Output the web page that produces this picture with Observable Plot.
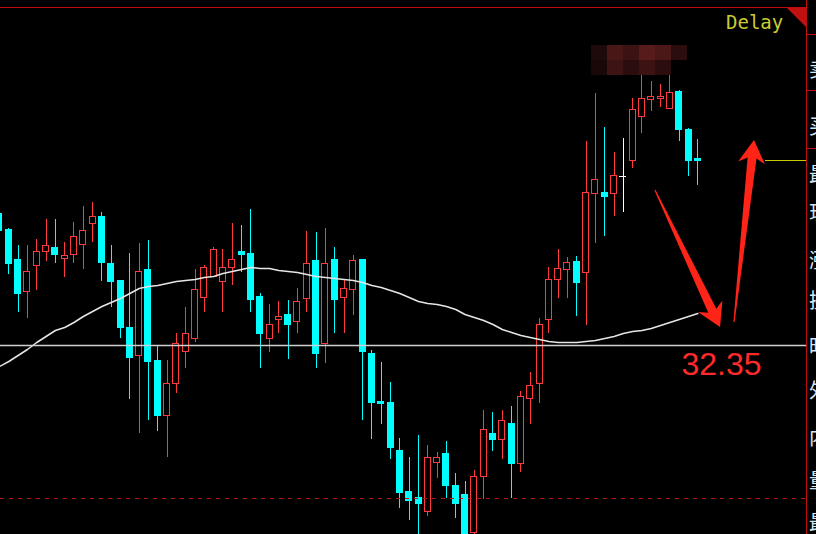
<!DOCTYPE html>
<html>
<head>
<meta charset="utf-8">
<script src="https://cdn.jsdelivr.net/npm/d3@7"></script>
<script src="https://cdn.jsdelivr.net/npm/@observablehq/plot@0.6"></script>
<style>
  html, body { margin: 0; padding: 0; background: #000; }
  #chart { width: 816px; height: 534px; overflow: hidden; }
  #chart svg { display: block; }
</style>
</head>
<body>
<div id="chart"></div>
<script>
// Daily bars, oldest first
const opens = [
  33.67, 33.51, 33.21, 32.89, 33.15, 33.29, 33.33, 33.22, 33.26, 33.36,
  33.57, 33.64, 33.17, 33.00, 32.53, 32.25, 33.11, 32.20, 31.65, 31.97,
  32.29, 32.42, 32.83, 33.04, 32.99, 33.13, 33.29, 33.27, 32.84, 32.42,
  32.61, 32.66, 32.59, 32.82, 33.20, 32.37, 33.21, 32.83, 32.91, 33.21,
  32.27, 31.79, 31.78, 31.30, 30.89, 30.83, 30.69, 31.18, 31.27, 30.95,
  30.86, 30.48, 31.04, 31.47, 31.41, 31.57, 31.17, 31.82, 31.97, 32.61,
  33.01, 33.11, 33.19, 33.08, 33.87, 33.88, 33.87, 34.04, 34.20, 34.64,
  34.81, 34.82, 34.72, 34.89, 34.51, 34.22
];
const highs = [
  33.70, 33.52, 33.35, 33.35, 33.41, 33.61, 33.61, 33.38, 33.58, 33.74,
  33.78, 33.68, 33.35, 33.00, 33.27, 33.37, 33.40, 32.34, 32.20, 32.47,
  32.73, 33.11, 33.15, 33.33, 33.31, 33.57, 33.55, 33.71, 32.87, 32.76,
  32.79, 32.80, 32.92, 33.49, 33.48, 33.52, 33.33, 33.01, 33.25, 33.21,
  32.30, 32.18, 31.98, 31.42, 31.23, 31.45, 31.35, 31.28, 31.39, 31.07,
  30.99, 31.10, 31.70, 31.68, 31.70, 31.74, 31.89, 32.08, 32.62, 33.13,
  33.31, 33.23, 33.24, 34.39, 34.87, 34.53, 34.28, 34.42, 34.82, 35.07,
  34.99, 34.96, 35.05, 34.90, 34.52, 34.41
];
const lows = [
  33.44, 33.06, 32.68, 32.62, 32.90, 33.19, 33.17, 33.03, 33.17, 33.11,
  33.38, 32.99, 32.73, 32.42, 31.81, 31.47, 31.60, 31.49, 31.23, 31.87,
  32.12, 32.38, 32.68, 33.03, 32.68, 32.95, 33.08, 32.68, 32.12, 32.28,
  32.47, 32.21, 32.47, 32.68, 32.12, 32.17, 32.47, 32.47, 32.65, 31.60,
  31.41, 31.56, 31.21, 30.72, 30.60, 30.44, 30.64, 31.02, 30.82, 30.62,
  30.38, 30.40, 30.81, 31.29, 31.21, 30.82, 31.08, 31.56, 31.77, 32.47,
  32.82, 32.82, 32.64, 32.55, 33.37, 33.44, 33.64, 33.68, 34.12, 34.47,
  34.69, 34.73, 34.72, 34.39, 34.04, 33.95
];
const closes = [
  33.50, 33.17, 32.87, 33.09, 33.29, 33.35, 33.26, 33.25, 33.44, 33.50,
  33.64, 33.18, 32.99, 32.53, 32.23, 33.09, 32.19, 31.65, 31.97, 32.37,
  32.47, 32.91, 33.13, 33.31, 33.13, 33.21, 33.26, 32.81, 32.47, 32.56,
  32.64, 32.56, 32.79, 33.17, 32.27, 33.17, 32.81, 32.92, 33.20, 32.29,
  31.78, 31.77, 31.33, 30.88, 30.80, 30.77, 31.23, 31.23, 30.95, 30.77,
  30.44, 31.04, 31.51, 31.41, 31.60, 31.17, 31.84, 31.95, 32.56, 33.01,
  33.12, 33.18, 32.98, 33.88, 34.01, 33.84, 34.05, 34.04, 34.71, 34.82,
  34.84, 34.84, 34.88, 34.51, 34.20, 34.20
];
// Moving average, one value per bar
const movingAvg = [
  32.14, 32.19, 32.25, 32.31, 32.38, 32.44, 32.50, 32.53, 32.58, 32.64,
  32.69, 32.74, 32.78, 32.82, 32.87, 32.92, 32.94, 32.95, 32.97, 32.99,
  33.00, 33.01, 33.03, 33.04, 33.07, 33.09, 33.11, 33.13, 33.12, 33.12,
  33.10, 33.09, 33.08, 33.06, 33.04, 33.03, 33.02, 33.01, 33.00, 32.98,
  32.95, 32.93, 32.90, 32.87, 32.83, 32.79, 32.77, 32.76, 32.74, 32.71,
  32.66, 32.63, 32.60, 32.56, 32.51, 32.48, 32.45, 32.43, 32.41, 32.39,
  32.38, 32.38, 32.38, 32.39, 32.40, 32.42, 32.44, 32.47, 32.49, 32.50,
  32.52, 32.55, 32.58, 32.61, 32.64, 32.67
];
const keyLevel = 32.35;      // marked level, labelled in red
const supportLevel = 30.82;  // dashed red level
const lastPrice = closes[closes.length - 1];
const panelLabels = ["卖", "买", "最", "现", "涨", "换", "昨", "外", "内", "量", "最"];
const statusLabel = "Delay";

// ---- layout ----
const W = 816, H = 534, M_TOP = 8, M_RIGHT = 10;
const xDomain = [0.1074, 86.67];
const yDomain = [30.46, 35.72];
const RED = "#ff3a3a", CYAN = "#00ffff", WHITE = "#ffffff";
const HALF = 0.322; // half body width, in bars

const bars = opens.map((o, i) => ({i, open: o, high: highs[i], low: lows[i], close: closes[i]}));
const up = bars.filter(d => d.close > d.open);
const down = bars.filter(d => d.close < d.open);
const flat = bars.filter(d => d.close === d.open);
const crisp = {shapeRendering: "crispEdges"};

const plot = Plot.plot({
  width: W, height: H,
  marginTop: M_TOP, marginRight: M_RIGHT, marginBottom: 0, marginLeft: 0,
  x: {domain: xDomain, axis: null},
  y: {domain: yDomain, axis: null},
  style: {background: "#000"},
  marks: [
    // wicks
    Plot.ruleX(up, {x: "i", y1: "low", y2: "high", stroke: RED, ...crisp}),
    Plot.ruleX(down, {x: "i", y1: "low", y2: "high", stroke: CYAN, ...crisp}),
    Plot.ruleX(flat, {x: "i", y1: "low", y2: "high", stroke: WHITE, ...crisp}),
    // bodies: hollow red for up days, solid cyan for down days
    Plot.rect(up, {x1: d => d.i - HALF, x2: d => d.i + HALF, y1: "open", y2: "close",
                   fill: "#000", stroke: RED, ...crisp}),
    Plot.rect(down, {x1: d => d.i - HALF, x2: d => d.i + HALF, y1: "open", y2: "close",
                     fill: CYAN, stroke: CYAN, ...crisp}),
    Plot.ruleY(flat, {y: "close", x1: d => d.i - 0.37, x2: d => d.i + 0.37, stroke: WHITE, ...crisp}),
    // moving average
    Plot.line(movingAvg, {x: (d, i) => i, y: d => d, stroke: "#e6e6e6", strokeWidth: 1.5}),
    // levels
    Plot.ruleY([keyLevel], {stroke: "#d0d0d0", strokeWidth: 1.5}),
    Plot.ruleY([supportLevel], {stroke: "#b41414", strokeDasharray: "4,5"}),
    Plot.ruleY([lastPrice], {x1: 82.27, x2: xDomain[1], stroke: "#c8c800"}),
    Plot.text([keyLevel], {
      x: 77.54, y: d => d, text: d => d.toFixed(2),
      fill: "#ff2a2a", fontSize: 32, fontFamily: "Liberation Sans, Arial, sans-serif",
      textAnchor: "middle", lineAnchor: "top", dy: 7
    })
  ]
});
document.getElementById("chart").appendChild(plot);

// ---- annotations drawn over the plot ----
const xs = d3.scaleLinear(xDomain, [0, W - M_RIGHT]);
const ys = d3.scaleLinear(yDomain, [H, M_TOP]);
const svg = d3.select(plot);

function arrowPath(tail, tip, o) {
  const dx = tip[0] - tail[0], dy = tip[1] - tail[1], len = Math.hypot(dx, dy);
  const ux = dx / len, uy = dy / len, nx = -uy, ny = ux;
  const at = (d, w) => [tip[0] - ux * d + nx * w, tip[1] - uy * d + ny * w];
  const pts = [
    [tail[0] + nx * o.tail, tail[1] + ny * o.tail],
    at(o.head - o.notch, o.shaft),
    at(o.head, o.wing),
    tip,
    at(o.head, -o.wing),
    at(o.head - o.notch, -o.shaft),
    [tail[0] - nx * o.tail, tail[1] - ny * o.tail]
  ];
  return "M" + pts.map(p => p[0].toFixed(1) + "," + p[1].toFixed(1)).join("L") + "Z";
}
const arrowStyle = {head: 23, notch: 5, shaft: 4.5, wing: 13.5, tail: 0.6};
const arrows = [
  {from: [70.45, 33.90], to: [77.44, 32.53]},
  {from: [78.94, 32.58], to: [81.09, 34.40]}
];
svg.append("g").selectAll("path").data(arrows).join("path")
  .attr("d", a => arrowPath([xs(a.from[0]), ys(a.from[1])], [xs(a.to[0]), ys(a.to[1])], arrowStyle))
  .attr("fill", "#ff2418");

// pixelated name tag above the peak
const tagColors = [
  ["#1e0a0a", "#4a1717", "#3c1212", "#581b1b", "#4c1717", "#2b0d0d"],
  ["#1a0808", "#3e1313", "#2b0d0d", "#3c1212", "#2c0d0d", null]
];
const tag = svg.append("g");
tagColors.forEach((row, r) => row.forEach((c, j) => {
  if (!c) return;
  tag.append("rect").attr("x", 591 + j * 16).attr("y", 45 + r * 15)
    .attr("width", 16).attr("height", 15).attr("fill", c);
}));

// frame lines and quote panel on the right
const chrome = svg.append("g").attr("shape-rendering", "crispEdges");
const edge = W - M_RIGHT;
chrome.append("line").attr("x1", 0).attr("x2", edge).attr("y1", M_TOP - 0.5).attr("y2", M_TOP - 0.5)
  .attr("stroke", "#c00e0e");
chrome.append("line").attr("x1", edge + 0.5).attr("x2", edge + 0.5).attr("y1", 0).attr("y2", H)
  .attr("stroke", "#c00e0e");
[34, 90.5, 148].forEach(y => chrome.append("line").attr("x1", edge).attr("x2", W)
  .attr("y1", y).attr("y2", y).attr("stroke", "#c00e0e"));
svg.append("path").attr("d", `M${edge - 19},${M_TOP}L${edge},${M_TOP}L${edge},${M_TOP + 19}Z`)
  .attr("fill", "#c01010");

svg.append("text").attr("x", 726).attr("y", 29).attr("text-anchor", "start")
  .attr("font-family", "DejaVu Sans Mono, monospace").attr("font-size", 19)
  .attr("fill", "#cccc30").text(statusLabel);

const rowY = [70, 127, 175, 213, 261, 301, 347, 391, 438, 481, 523];
svg.append("g").attr("text-anchor", "start").selectAll("text").data(panelLabels).join("text")
  .attr("x", 809).attr("y", (d, i) => rowY[i]).attr("dy", "0.35em")
  .attr("font-family", "Noto Sans CJK SC").attr("font-size", 20)
  .attr("fill", "#d6e6f2").text(d => d);
</script>
</body>
</html>
